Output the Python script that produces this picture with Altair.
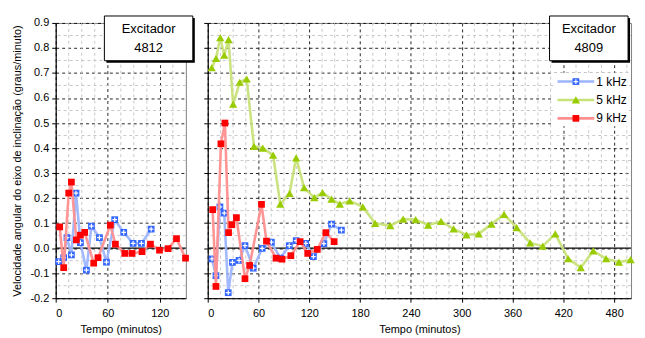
import altair as alt
import pandas as pd

series_names = ["1 kHz", "5 kHz", "9 kHz"]
marker_colors = ["#3366ff", "#99cc00", "#ff0000"]
line_colors = ["#9db5ff", "#c8e27a", "#ff8f8f"]
marker_shapes = ["square", "triangle-up", "square"]
marker_sizes = [46, 70, 46]

box_labels = ["Excitador\n4812", "Excitador\n4809"]
y_title = "Velocidade angular do eixo de inclinação (graus/minuto)"
x_title = "Tempo (minutos)"

y_ticks = [-0.2, -0.1, 0.0, 0.1, 0.2, 0.3, 0.4, 0.5, 0.6, 0.7, 0.8, 0.9]
y_minor = [-0.15, -0.05, 0.05, 0.15, 0.25, 0.35, 0.45, 0.55, 0.65, 0.75, 0.85]

# ---- Left panel: Excitador 4812
left_x_ticks = [0, 60, 120]
left_x_minor = [15, 30, 45, 75, 90, 105, 135]
l_t_1k = [3.5, 9.2, 13.0, 18.1, 23.4, 28.5, 35.4, 41.2, 50.4, 58.5, 68.0, 78.4, 89.2, 98.8, 110.0]
l_v_1k = [-0.054, -0.038, 0.042, -0.027, 0.220, 0.022, -0.088, 0.088, 0.042, -0.056, 0.114, 0.063, 0.019, 0.019, 0.076]
l_t_9k = [4.6, 9.2, 15.0, 18.1, 23.8, 28.5, 33.4, 43.8, 48.8, 63.0, 68.8, 79.6, 88.0, 99.5, 109.2, 119.6, 129.5, 139.2, 149.6]
l_v_9k = [0.085, -0.078, 0.220, 0.264, 0.033, 0.052, 0.063, -0.060, -0.038, 0.092, 0.016, -0.021, -0.021, -0.014, 0.016, -0.008, -0.002, 0.038, -0.040]

# ---- Right panel: Excitador 4809
right_x_ticks = [0, 60, 120, 180, 240, 300, 360, 420, 480]
right_x_minor = [15, 30, 45, 75, 90, 105, 135, 150, 165, 195, 210, 225, 255, 270, 285,
                 315, 330, 345, 375, 390, 405, 435, 450, 465, 495]
r_t_1k = [5.0, 9.7, 14.4, 19.5, 24.2, 29.2, 37.0, 44.0, 53.8, 64.3, 75.2, 85.7, 96.3, 104.5, 115.8, 124.8, 137.2, 146.2, 157.9]
r_v_1k = [-0.043, -0.110, 0.165, 0.140, -0.178, -0.057, -0.049, 0.010, -0.080, -0.001, 0.024, -0.040, 0.010, 0.030, 0.019, -0.034, 0.018, 0.096, 0.072]
r_t_5k = [4.7, 9.8, 14.8, 19.5, 24.6, 30.0, 37.8, 46.0, 54.6, 65.0, 77.2, 85.7, 96.7, 104.4, 113.8, 125.9, 135.6, 146.2,
          156.0, 167.6, 183.2, 197.7, 215.6, 230.8, 245.6, 260.4, 275.6, 290.4, 305.6, 320.0, 335.2, 350.0, 364.9,
          380.9, 395.7, 410.5, 425.7, 440.6, 455.3, 470.5, 485.7, 499.5]
r_v_5k = [0.721, 0.758, 0.841, 0.771, 0.833, 0.575, 0.663, 0.676, 0.407, 0.400, 0.372, 0.176, 0.219, 0.361, 0.242, 0.202, 0.222, 0.196,
          0.176, 0.189, 0.165, 0.099, 0.090, 0.116, 0.114, 0.092, 0.107, 0.077, 0.053, 0.057, 0.096, 0.135, 0.082,
          0.021, 0.008, 0.057, -0.042, -0.078, -0.011, -0.042, -0.056, -0.046]
r_t_9k = [5.8, 9.7, 15.6, 20.3, 24.6, 28.5, 33.9, 44.0, 49.5, 63.5, 69.4, 80.7, 87.7, 98.2, 109.1, 118.1, 129.4, 139.5, 149.3]
r_v_9k = [0.154, -0.153, 0.417, 0.500, 0.062, 0.094, 0.122, -0.122, -0.069, 0.175, 0.028, -0.040, -0.044, -0.030, 0.026, -0.021, -0.005, 0.062, 0.026]

FONT = "Liberation Sans"
H = 277
ys = alt.Scale(domain=[-0.2, 0.9], nice=False, zero=False)
y_label_expr = "datum.value < 0 ? '-' + format(-datum.value, '.1f') : format(datum.value, '.1f')"


def make_axes(xticks, show_y):
    xa = alt.Axis(values=xticks, format="d", title=x_title, grid=True, gridColor="#000000",
                  gridDash=[3, 3], gridOpacity=0.85, tickSize=4, labelPadding=5, titlePadding=6,
                  domainColor="#000000", tickColor="#000000")
    if show_y:
        ya = alt.Axis(values=y_ticks, labelExpr=y_label_expr, title=y_title, grid=True,
                      gridColor="#000000", gridDash=[3, 3], gridOpacity=0.85, tickSize=4,
                      labelPadding=3, titlePadding=7, domainColor="#000000", tickColor="#000000")
    else:
        ya = alt.Axis(values=y_ticks, labels=False, title="", grid=True,
                      gridColor="#000000", gridDash=[3, 3], gridOpacity=0.85, tickSize=4,
                      domainColor="#000000", tickColor="#000000")
    return xa, ya


def series_layers(ts, vs, idx, xs, xa, ya):
    df = pd.DataFrame({"t": ts, "v": vs, "s": series_names[idx]})
    base = alt.Chart(df).encode(
        x=alt.X("t:Q", scale=xs, axis=xa),
        y=alt.Y("v:Q", scale=ys, axis=ya),
    )
    out = [
        base.mark_line(color=line_colors[idx], strokeWidth=2.6, opacity=0.95),
        base.mark_point(shape=marker_shapes[idx], filled=True, opacity=1,
                        color=marker_colors[idx], size=marker_sizes[idx]),
    ]
    if idx == 0:
        out.append(base.mark_point(shape="M-1,0H1M0,-1V1", filled=False, opacity=1,
                                   stroke="white", strokeWidth=1.2, size=22))
    return out


def panel(width, xdomain, xticks, xminor, series, box_label, box_x0, box_x1, show_y, legend=False):
    xs = alt.Scale(domain=xdomain, nice=False, zero=False)
    xa, ya = make_axes(xticks, show_y)
    minor_x = alt.Chart(pd.DataFrame({"t": xminor})).mark_rule(
        color="#c8c8c8", strokeDash=[3, 3], strokeWidth=1).encode(x=alt.X("t:Q", scale=xs, axis=xa))
    minor_y = alt.Chart(pd.DataFrame({"v": y_minor})).mark_rule(
        color="#c8c8c8", strokeDash=[3, 3], strokeWidth=1).encode(y=alt.Y("v:Q", scale=ys, axis=ya))
    zero = alt.Chart(pd.DataFrame({"v": [0.0]})).mark_rule(color="#000000", strokeWidth=1.2).encode(
        y=alt.Y("v:Q", scale=ys, axis=ya))
    layers = [minor_x, minor_y, zero]
    for ts, vs, idx in series:
        layers += series_layers(ts, vs, idx, xs, xa, ya)

    bdf = pd.DataFrame({"label": [box_label]})
    shadow = alt.Chart(bdf).mark_rect(fill="#000000").encode(
        x=alt.value(box_x0 + 2), x2=alt.value(box_x1 + 2), y=alt.value(-5), y2=alt.value(40))
    box = alt.Chart(bdf).mark_rect(fill="white", stroke="#000000", strokeWidth=1).encode(
        x=alt.value(box_x0), x2=alt.value(box_x1), y=alt.value(-7), y2=alt.value(38))
    btxt = alt.Chart(bdf).mark_text(font=FONT, fontSize=13, lineBreak="\n", lineHeight=19,
                                    baseline="top", align="center", color="#000000").encode(
        x=alt.value((box_x0 + box_x1) / 2), y=alt.value(0), text="label:N")
    layers += [shadow, box, btxt]

    if legend:
        lx0, lx1, ly0 = 348, 424, 50
        bg = alt.Chart(pd.DataFrame({"a": [0]})).mark_rect(fill="white").encode(
            x=alt.value(lx0), x2=alt.value(lx1), y=alt.value(ly0), y2=alt.value(ly0 + 54))
        layers.append(bg)
        for i, name in enumerate(series_names):
            yy = 59 + i * 18.5
            ldf = pd.DataFrame({"s": [name]})
            layers.append(alt.Chart(ldf).mark_rule(color=line_colors[i], strokeWidth=2.6).encode(
                x=alt.value(352), x2=alt.value(389), y=alt.value(yy)))
            layers.append(alt.Chart(ldf).mark_point(shape=marker_shapes[i], filled=True, opacity=1,
                                                    color=marker_colors[i], size=marker_sizes[i]).encode(
                x=alt.value(370.5), y=alt.value(yy)))
            if i == 0:
                layers.append(alt.Chart(ldf).mark_point(shape="M-1,0H1M0,-1V1", filled=False, opacity=1,
                                                        stroke="white", strokeWidth=1.2, size=22).encode(
                    x=alt.value(370.5), y=alt.value(yy)))
            layers.append(alt.Chart(ldf).mark_text(font=FONT, fontSize=12, align="left", baseline="middle",
                                                   color="#000000").encode(
                x=alt.value(391), y=alt.value(yy), text="s:N"))

    return alt.layer(*layers).properties(width=width, height=H)


left = panel(131, [0, 150], left_x_ticks, left_x_minor,
             [(l_t_1k, l_v_1k, 0), (l_t_9k, l_v_9k, 2)],
             box_labels[0], 49, 138, True)
right = panel(426, [0, 500], right_x_ticks, right_x_minor,
              [(r_t_1k, r_v_1k, 0), (r_t_5k, r_v_5k, 1), (r_t_9k, r_v_9k, 2)],
              box_labels[1], 344, 423, False, legend=True)

chart = alt.hconcat(left, right, spacing=22, bounds="flush").properties(
    padding={"left": 3, "top": 6, "right": 0, "bottom": 0}
).configure_view(stroke="#808080", strokeWidth=1).configure_axis(
    labelFont=FONT, titleFont=FONT, labelFontSize=11, titleFontSize=11,
    labelColor="#000000", titleColor="#000000", titleFontWeight="normal"
)

chart.save("out.html", embed_options={"renderer": "svg", "actions": False})
